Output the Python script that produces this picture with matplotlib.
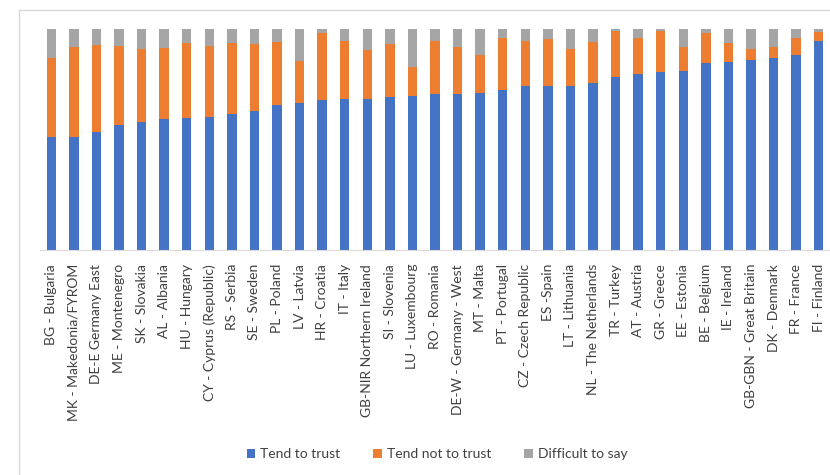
import matplotlib.pyplot as plt
from matplotlib.lines import Line2D
import numpy as np

# Countries, sorted by share who tend to trust
countries = ["BG - Bulgaria", "MK - Makedonia/FYROM", "DE-E Germany East", "ME - Montenegro",
             "SK - Slovakia", "AL - Albania", "HU - Hungary", "CY - Cyprus (Republic)",
             "RS - Serbia", "SE - Sweden", "PL - Poland", "LV - Latvia", "HR - Croatia",
             "IT - Italy", "GB-NIR Northern Ireland", "SI - Slovenia", "LU - Luxembourg",
             "RO - Romania", "DE-W - Germany - West", "MT - Malta", "PT - Portugal",
             "CZ - Czech Republic", "ES -Spain", "LT - Lithuania", "NL - The Netherlands",
             "TR - Turkey", "AT - Austria", "GR - Greece", "EE - Estonia", "BE - Belgium",
             "IE - Ireland", "GB-GBN - Great Britain", "DK - Denmark", "FR - France",
             "FI - Finland"]

trust = [51.1, 51.1, 53.6, 56.5, 57.7, 59.1, 59.7, 60.3, 61.5, 62.7, 65.7, 66.5, 68.0,
         68.1, 68.1, 69.2, 69.8, 70.5, 70.5, 71.1, 72.2, 74.2, 74.2, 74.2, 75.4, 78.2,
         79.5, 80.7, 80.8, 84.4, 84.9, 86.1, 86.9, 88.1, 94.7]
not_trust = [35.6, 40.6, 39.3, 35.6, 33.4, 32.1, 33.8, 32.1, 32.0, 30.4, 28.4, 19.0, 30.2,
             26.5, 22.4, 24.2, 12.8, 24.1, 21.2, 17.1, 23.7, 20.4, 21.1, 16.9, 18.6, 20.9,
             16.4, 18.4, 10.9, 13.9, 8.6, 5.0, 5.1, 7.8, 4.1]
difficult = [13.3, 8.3, 7.1, 7.9, 8.9, 8.8, 6.5, 7.6, 6.5, 6.9, 5.9, 14.5, 1.8,
             5.4, 9.5, 6.6, 17.4, 5.4, 8.3, 11.8, 4.1, 5.4, 4.7, 8.9, 6.0, 0.9,
             4.1, 0.9, 8.3, 1.7, 6.5, 8.9, 8.0, 4.1, 1.2]

blue = "#4472C4"
orange = "#ED7D31"
grey = "#A5A5A5"

plt.rcParams['font.family'] = ['Lato', 'DejaVu Sans']

fig = plt.figure(figsize=(8.3, 4.75), dpi=100)
ax = fig.add_axes([40 / 830, 1 - 250 / 475, 790 / 830, 221 / 475])

x = np.arange(len(countries))
w = 0.42
ax.bar(x, trust, w, color=blue, label="Tend to trust")
ax.bar(x, not_trust, w, bottom=trust, color=orange, label="Tend not to trust")
bottom2 = np.array(trust) + np.array(not_trust)
ax.bar(x, difficult, w, bottom=bottom2, color=grey, label="Difficult to say")

ax.set_xlim(-0.5, len(countries) - 0.5)
ax.set_ylim(0, 100)
ax.set_xticks(x)
ax.set_xticklabels(countries, rotation=90, fontsize=10, color="#404040")
ax.tick_params(axis="x", length=0, pad=10)
ax.set_yticks([])
for s in ["top", "left", "right"]:
    ax.spines[s].set_visible(False)
ax.spines["bottom"].set_color("#D9D9D9")

# light chart-area frame (left and top edges)
fig.add_artist(Line2D([19 / 830, 19 / 830], [0, 1 - 9.5 / 475], color="#D9D9D9", lw=1))
fig.add_artist(Line2D([19 / 830, 1], [1 - 9.5 / 475, 1 - 9.5 / 475], color="#D9D9D9", lw=1))

ax.legend(loc="center", bbox_to_anchor=(437 / 830, 1 - 454 / 475), bbox_transform=fig.transFigure,
          ncol=3, frameon=False, fontsize=10, handlelength=0.6, handleheight=0.6,
          columnspacing=2.4, handletextpad=0.35, labelcolor="#404040")

fig.savefig("out.png", dpi=100)
